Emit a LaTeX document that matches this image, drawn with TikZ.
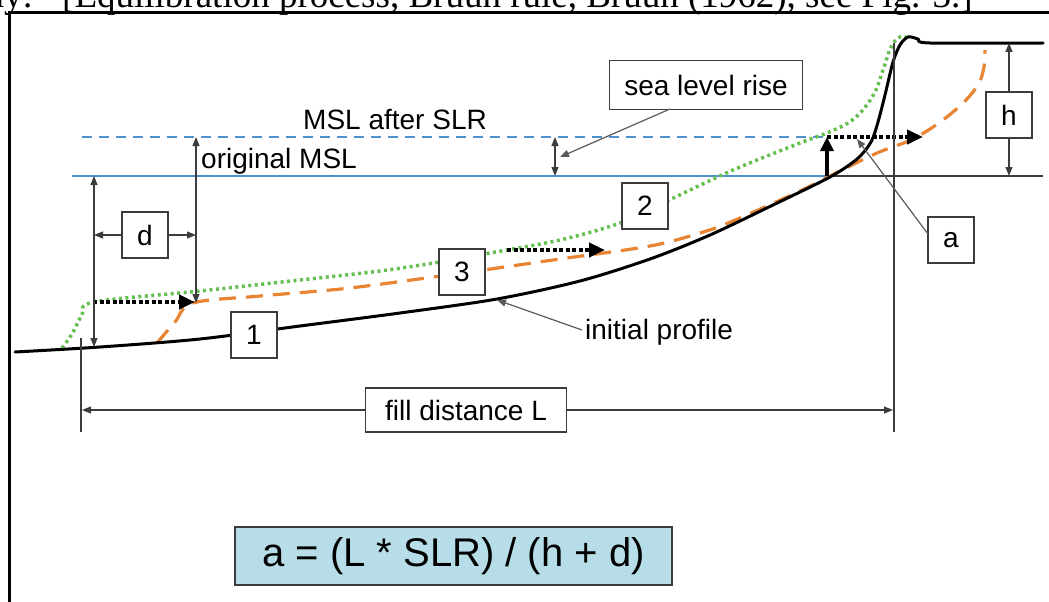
\documentclass[tikz,border=0pt]{standalone}
\usepackage{fontspec}
\setmainfont{Liberation Sans}
\newfontfamily\capfont{Liberation Serif}
\usetikzlibrary{arrows.meta}
\definecolor{msl}{RGB}{80,145,205}
\definecolor{shifted}{RGB}{232,132,50}
\definecolor{raised}{RGB}{100,190,80}
\definecolor{dim}{RGB}{60,60,60}
\definecolor{lead}{RGB}{90,90,90}
\definecolor{formulafill}{RGB}{183,222,232}

\begin{document}
\begin{tikzpicture}[x=1pt,y=-1pt,
  lbl/.style={draw=dim, line width=1.3pt, fill=white, inner sep=0pt,
    font=\fontsize{28}{30}\selectfont, minimum width=46pt, minimum height=46pt},
  plain/.style={font=\fontsize{28}{30}\selectfont, inner sep=0pt},
  dimline/.style={draw=dim, line width=1.2pt},
  leaderline/.style={draw=lead, line width=1.2pt},
  tip/.style={-{Triangle[length=9pt,width=7pt]}},
  tips/.style={{Triangle[length=9pt,width=7pt]}-{Triangle[length=9pt,width=7pt]}},
  profile/.style={draw=black, line width=3pt, line join=round, line cap=round},
  shiftline/.style={draw=shifted, line width=3.2pt, dash pattern=on 17pt off 10pt},
  raiseline/.style={draw=raised, line width=3.5pt, dash pattern=on 3pt off 3.5pt},
  movearrow/.style={draw=black, line width=4pt, dash pattern=on 4pt off 2.5pt,
    -{Triangle[length=16pt,width=14pt]}},
]
\useasboundingbox (0,0) rectangle (1049,602);

% caption line of the page, cut by the top edge
\node[anchor=base east, inner sep=0pt, font=\capfont\fontsize{37}{40}\selectfont] (capA) at (33,8) {ay:};
\node[anchor=base west, inner sep=0pt, font=\capfont\fontsize{37}{40}\selectfont] (capB) at (62,8)
  {[Equilibration process, Bruun rule, Bruun (1962), see Fig. 3.]};

% figure frame
\draw[line width=3pt] (9.5,620) -- (9.5,12.5) -- (1070,12.5);

% water levels
\coordinate (mslL) at (72,176);
\coordinate (mslR) at (830,176);
\coordinate (baseR) at (1043,176);
\coordinate (slrL) at (82,137);
\coordinate (slrR) at (827,137);
\draw[msl, line width=1.5pt] (mslL) -- (mslR);
\draw[dim, line width=1.2pt] (mslR) -- (baseR);
\draw[msl, line width=1.5pt, dash pattern=on 10pt off 7pt] (slrL) -- (slrR);

% raised profile (green dotted)
\draw[raiseline] plot[smooth, tension=0.55] coordinates {
  (62,348) (72,334) (82,315) (94,302) (200,291) (300,280) (380,271) (440,262)
  (490,253) (560,240) (620,223) (667,201) (733,170) (800,143) (827,133)
  (848,123) (862,111) (875,92) (883,70) (889,52) (894,42) (900,37) (906,37)};

% shifted profile (orange dashed)
\draw[shiftline] plot[smooth, tension=0.55] coordinates {
  (157,343) (175,322) (193,303) (260,296) (350,288) (462,273) (560,259)
  (650,246) (700,233) (733,221) (800,191) (840,171) (877,153) (913,139)
  (943,120) (966,100) (979,83) (984,67) (985,50)};

% initial profile (black)
\draw[profile] plot[smooth, tension=0.5] coordinates {
  (15,352) (100,347) (200,339) (300,326) (400,313) (497,299)
  (580,281) (650,259) (710,235) (773,205) (830,177) (857,159) (871,142)
  (878,122) (885,95) (893,62) (900,45) (908,37) (918,39) (930,43) (1043,43)};

% shift and rise arrows
\coordinate (m1a) at (93,302);  \coordinate (m1b) at (195,302);
\coordinate (m2a) at (507,250); \coordinate (m2b) at (605,250);
\coordinate (m3a) at (827,137); \coordinate (m3b) at (923,137);
\coordinate (r0) at (827,176);  \coordinate (r1) at (827,137);
\draw[movearrow] (m1a) -- (m1b);
\draw[movearrow] (m2a) -- (m2b);
\draw[movearrow] (m3a) -- (m3b);
\draw[black, line width=4pt, -{Triangle[length=14pt,width=13pt]}] (r0) -- (r1);

% depth d dimensions
\coordinate (dv1) at (94,176);  \coordinate (dv2) at (94,347);
\coordinate (dw1) at (196,137); \coordinate (dw2) at (196,303);
\draw[dimline, tips] (dv1) -- (dv2);
\draw[dimline, tips] (dw1) -- (dw2);
\node[lbl] (dbox) at (145,235) {d};
\coordinate (dL) at (94,235); \coordinate (dR) at (196,235);
\draw[dimline, tip] (dbox.west) -- (dL);
\draw[dimline, tip] (dbox.east) -- (dR);

% sea level rise dimension
\coordinate (s1) at (555,137); \coordinate (s2) at (555,176);
\draw[dimline, tips] (s1) -- (s2);
\node[lbl, minimum width=193pt, minimum height=49pt] (slrbox) at (706,85) {sea level rise};
\coordinate (slrFrom) at (670,109); \coordinate (slrTo) at (560,157);
\draw[leaderline, tip] (slrFrom) -- (slrTo);

% water level labels
\node[plain, anchor=base west] (afterlbl) at (303,129) {MSL after SLR};
\node[plain, anchor=base west] (origlbl) at (201,168) {original MSL};

% berm height h
\node[lbl] (hbox) at (1009,115) {h};
\coordinate (hT) at (1009,43); \coordinate (hB) at (1009,176);
\draw[dimline, tip] (hbox.north) -- (hT);
\draw[dimline, tip] (hbox.south) -- (hB);

% fill distance L
\coordinate (lTop) at (81,338); \coordinate (lBot) at (81,432);
\coordinate (rTop) at (894,43); \coordinate (rBot) at (894,432);
\draw[dimline] (lTop) -- (lBot);
\draw[dimline] (rTop) -- (rBot);
\node[lbl, minimum width=201pt, minimum height=44pt] (fillbox) at (466,410) {fill distance L};
\coordinate (fL) at (82,410); \coordinate (fR) at (893,410);
\draw[dimline, tip] (fillbox.west) -- (fL);
\draw[dimline, tip] (fillbox.east) -- (fR);

% recession a
\node[lbl] (abox) at (951,240) {a};
\coordinate (aFrom) at (928,234); \coordinate (aTo) at (857,139);
\draw[leaderline, tip] (aFrom) -- (aTo);

% numbered profiles
\node[lbl] (n1) at (254,335) {1};
\node[lbl] (n2) at (645,206) {2};
\node[lbl] (n3) at (462,272) {3};

% initial profile label
\node[plain, anchor=west] (initlbl) at (585,332) {initial profile};
\coordinate (iFrom) at (582,330); \coordinate (iTo) at (497,300);
\draw[leaderline, tip] (iFrom) -- (iTo);

% Bruun rule
\node[draw=dim, line width=1.3pt, fill=formulafill, minimum width=437pt, minimum height=58pt,
  inner sep=0pt, font=\fontsize{40}{44}\selectfont] (formula) at (453.5,556) {a = (L * SLR) / (h + d)};
\end{tikzpicture}
\end{document}
